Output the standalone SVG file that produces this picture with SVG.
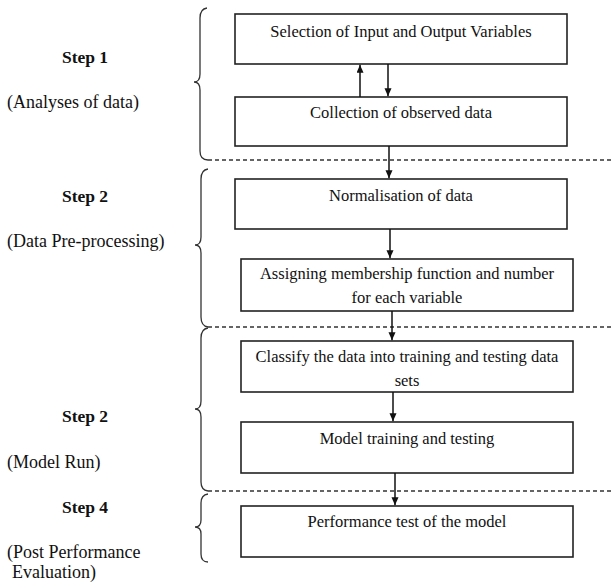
<svg xmlns="http://www.w3.org/2000/svg" width="614" height="585" viewBox="0 0 614 585">
<style>
.box{fill:#fff;stroke:#222;stroke-width:1.6}
.t{font-family:"Liberation Serif","Times New Roman",serif;font-size:16.5px;fill:#111}
.l{font-size:18px}
.c{text-anchor:middle}
.b{font-weight:bold;font-size:17.5px}
.dash{stroke:#333;stroke-width:1.3;stroke-dasharray:4,3;fill:none}
.brace{fill:none;stroke:#333;stroke-width:1.3}
.arr{stroke:#111;stroke-width:1.5;fill:none;marker-end:url(#ah)}
</style>
<defs>
<marker id="ah" markerWidth="8" markerHeight="8" refX="8" refY="3.5" orient="auto" markerUnits="userSpaceOnUse">
<path d="M0,0 L8,3.5 L0,7 z" fill="#111"/>
</marker>
</defs>
<rect width="614" height="585" fill="#fff"/>

<g id="labels">
<text class="t b c" x="85" y="63">Step 1</text>
<text class="t l" x="7" y="108">(Analyses of data)</text>
<text class="t b c" x="85" y="202">Step 2</text>
<text class="t l" x="7" y="247">(Data Pre-processing)</text>
<text class="t b c" x="85" y="422">Step 2</text>
<text class="t l" x="7" y="468">(Model Run)</text>
<text class="t b c" x="85" y="513">Step 4</text>
<text class="t l" x="7" y="558">(Post Performance</text>
<text class="t l" x="12" y="578">Evaluation)</text>
</g>

<g id="braces">
<path class="brace" d="M207,8 Q200,9 200,18 L200,74 Q200,82 194,82 Q200,82 200,90 L200,151 Q200,160 208,160"/>
<path class="brace" d="M208,169 Q201,170 201,179 L201,237 Q201,245 195,245 Q201,245 201,253 L201,317 Q201,326 208,327"/>
<path class="brace" d="M208,328 Q201,329 201,338 L201,401 Q201,409 195,409 Q201,409 201,417 L201,482 Q201,490 208,491"/>
<path class="brace" d="M208,494 Q201,495 201,503 L201,520 Q201,527 195,527 Q201,527 201,534 L201,554 Q201,562 208,562"/>
</g>

<g id="separators">
<line class="dash" x1="208" y1="160" x2="614" y2="160"/>
<line class="dash" x1="208" y1="327" x2="614" y2="327"/>
<line class="dash" x1="208" y1="491" x2="614" y2="491"/>
</g>

<g id="n1"><rect class="box" x="235" y="14" width="332" height="50"/><text class="t c" x="401" y="37">Selection of Input and Output Variables</text></g>
<g id="n2"><rect class="box" x="235" y="97" width="332" height="49"/><text class="t c" x="401" y="118">Collection of observed data</text></g>
<g id="n3"><rect class="box" x="235" y="179" width="332" height="50"/><text class="t c" x="401" y="201">Normalisation of data</text></g>
<g id="n4"><rect class="box" x="241" y="259" width="332" height="52"/><text class="t c" x="407" y="279">Assigning membership function and number</text><text class="t c" x="407" y="303">for each variable</text></g>
<g id="n5"><rect class="box" x="241" y="341" width="332" height="51"/><text class="t c" x="407" y="362">Classify the data into training and testing data</text><text class="t c" x="407" y="386">sets</text></g>
<g id="n6"><rect class="box" x="241" y="422" width="332" height="51"/><text class="t c" x="407" y="444">Model training and testing</text></g>
<g id="n7"><rect class="box" x="241" y="506" width="332" height="51"/><text class="t c" x="407" y="527">Performance test of the model</text></g>

<g id="connectors">
<line class="arr" x1="360" y1="97" x2="360" y2="64.8"/>
<line class="arr" x1="388" y1="64" x2="388" y2="96.2"/>
<line class="arr" x1="389" y1="146" x2="389" y2="178.2"/>
<line class="arr" x1="390" y1="229" x2="390" y2="258.2"/>
<line class="arr" x1="392" y1="311" x2="392" y2="340.2"/>
<line class="arr" x1="393" y1="392" x2="393" y2="421.2"/>
<line class="arr" x1="395" y1="473" x2="395" y2="505.2"/>
</g>
</svg>
